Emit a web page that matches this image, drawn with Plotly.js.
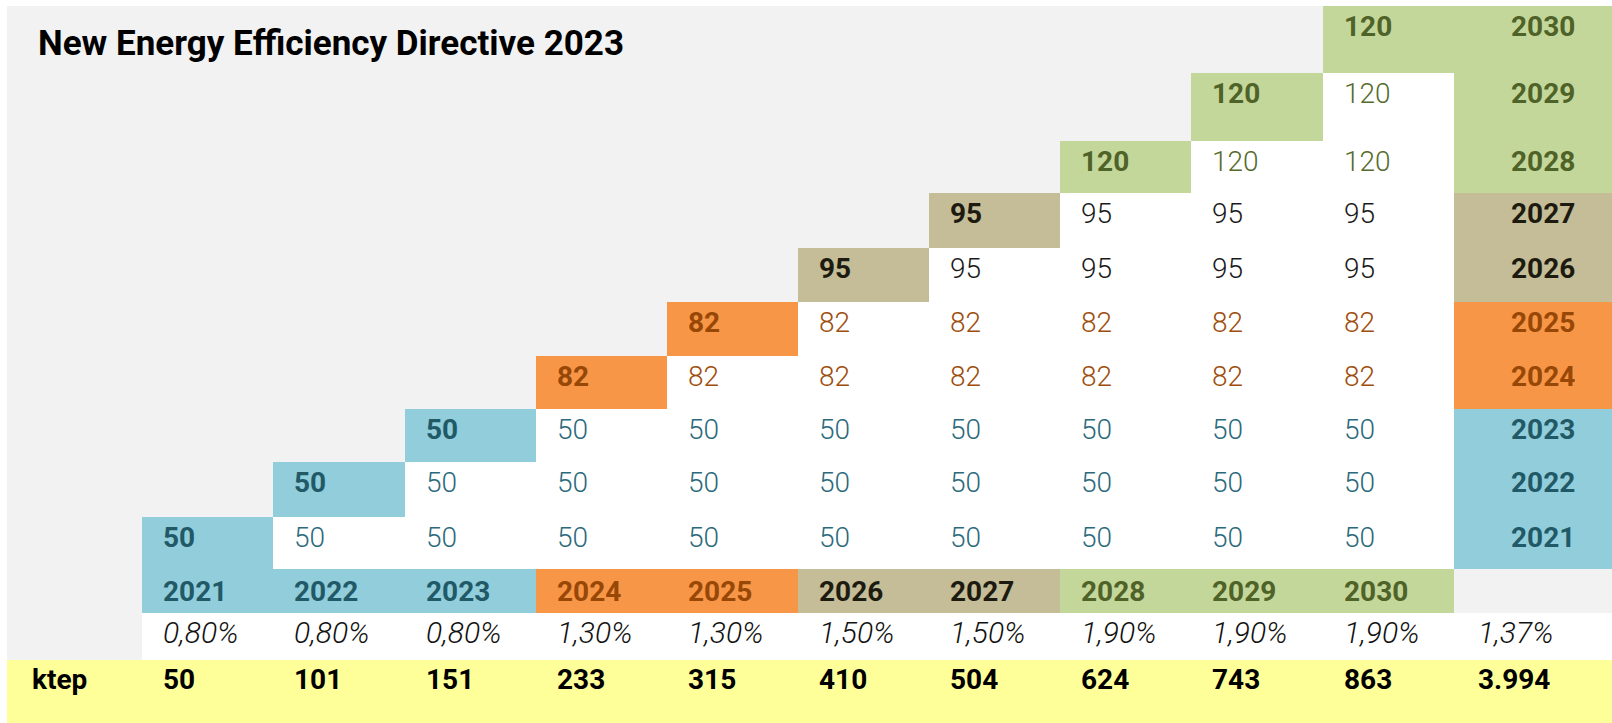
<!DOCTYPE html>
<html>
<head>
<meta charset="utf-8">
<script src="https://cdn.plot.ly/plotly-3.0.1.min.js"></script>
<style>
html,body{margin:0;padding:0;background:#ffffff;}
#chart{width:1612px;height:723px;}
</style>
</head>
<body>
<div id="chart"></div>
<script>
// ---------------- DATA ----------------
const titleText = 'New Energy Efficiency Directive 2023';
const years = [2021, 2022, 2023, 2024, 2025, 2026, 2027, 2028, 2029, 2030];
const annualSavings = [50, 50, 50, 82, 82, 95, 95, 120, 120, 120];
const savingRates = [0.80, 0.80, 0.80, 1.30, 1.30, 1.50, 1.50, 1.90, 1.90, 1.90];
const averageRate = 1.37;
const cumulativeKtep = [50, 101, 151, 233, 315, 410, 504, 624, 743, 863];
const totalKtep = 3994;
const unitLabel = 'ktep';
const yearGroups = ['blue', 'blue', 'blue', 'orange', 'orange', 'tan', 'tan', 'green', 'green', 'green'];

// ---------------- STYLE / LAYOUT CONSTANTS ----------------
const PALETTE = {
  gray:   {fill: '#F2F2F2'},
  white:  {fill: '#FFFFFF'},
  blue:   {fill: '#92CDDC', dark: '#215967', light: '#2B6A7C'},
  orange: {fill: '#F79646', dark: '#974706', light: '#9E4D0C'},
  tan:    {fill: '#C4BD97', dark: '#1D1B10', light: '#1A1A1A'},
  green:  {fill: '#C4D79B', dark: '#4F6228', light: '#556B2C'},
  yellow: {fill: '#FFFF99'}
};
const CODE_ORDER = ['gray', 'white', 'blue', 'orange', 'tan', 'green', 'yellow'];
const code = name => CODE_ORDER.indexOf(name);

const FIG_W = 1612, FIG_H = 723;
const M_L = 7, M_T = 6;
const COL_W = 131.14;          // px per data column
const LABEL_W = 135.3;         // px of the label column
const PLOT_W = FIG_W - M_L;
const PLOT_H = FIG_H - M_T;
const X_MIN = -LABEL_W / COL_W;
const X_MAX = X_MIN + PLOT_W / COL_W;
// row heights (px), top to bottom: 10 year rows (2030..2021), year-label row, rate row, ktep row
const ROW_H = [67, 67.7, 52.3, 54.7, 54, 54, 53.3, 53, 54.7, 52.3, 43.7, 46.8, 63.5];
const FONT = 'Roboto, "Noto Sans", "DejaVu Sans", sans-serif';
const FS = 28;
const PAD_X = 19;

// ---------------- BUILD GRID ----------------
const n = years.length;
const xEdges = [X_MIN];
for (let j = 0; j <= n; j++) xEdges.push(j);
xEdges.push(X_MAX);
const yEdges = [0];
ROW_H.forEach(h => yEdges.push(yEdges[yEdges.length - 1] + h));

const z = [];
const annotations = [];
const fmtRate = r => r.toFixed(2).replace('.', ',') + '%';
const fmtThousands = v => v >= 1000 ? Math.floor(v / 1000) + '.' + String(v % 1000).padStart(3, '0') : String(v);

function addText(txt, colX, rowIdx, opts) {
  const o = Object.assign({weight: 400, style: 'normal', color: '#000', anchor: 'left', xshift: PAD_X, pad: 9, size: FS}, opts || {});
  const capGap = Math.round(0.216 * o.size) + 1;
  annotations.push({
    x: colX, y: yEdges[rowIdx], xref: 'x', yref: 'y',
    xanchor: o.anchor, yanchor: 'top',
    xshift: o.xshift, yshift: -(o.pad - capGap),
    text: txt, showarrow: false,
    font: {family: FONT, size: o.size, color: o.color, weight: o.weight, style: o.style}
  });
}

// year rows, top (2030) to bottom (2021)
for (let r = 0; r < n; r++) {
  const i = n - 1 - r;
  const g = yearGroups[i];
  const row = [code('gray')];
  for (let j = 0; j < n; j++) {
    if (j < i) row.push(code('gray'));
    else if (j === i) row.push(code(g));
    else row.push(code('white'));
  }
  row.push(code(g));
  z.push(row);
  for (let j = i; j < n; j++) {
    addText(String(annualSavings[i]), j, r, {
      weight: j === i ? 700 : 300,
      color: j === i ? PALETTE[g].dark : PALETTE[g].light
    });
  }
  addText(String(years[i]), n, r, {weight: 700, color: PALETTE[g].dark, anchor: 'center', xshift: 89});
}

// year label row
const rYear = n;
z.push([code('gray')].concat(yearGroups.map(g => code(g))).concat([code('gray')]));
years.forEach((y, j) => addText(String(y), j, rYear, {weight: 700, color: PALETTE[yearGroups[j]].dark, pad: 11}));

// rate row
const rRate = n + 1;
z.push([code('gray')].concat(years.map(() => code('white'))).concat([code('white')]));
savingRates.forEach((v, j) => addText(fmtRate(v), j, rRate, {weight: 300, style: 'italic', color: '#111', size: 30, pad: 7}));
addText(fmtRate(averageRate), n, rRate, {weight: 300, style: 'italic', color: '#111', size: 30, xshift: 22, pad: 7});

// ktep row
const rKtep = n + 2;
z.push([code('yellow')].concat(years.map(() => code('yellow'))).concat([code('yellow')]));
addText(unitLabel, X_MIN, rKtep, {weight: 700, xshift: 23, pad: 8.5});
cumulativeKtep.forEach((v, j) => addText(fmtThousands(v), j, rKtep, {weight: 700, pad: 8.5}));
addText(fmtThousands(totalKtep), n, rKtep, {weight: 700, xshift: 22, pad: 8.5});

const colorscale = CODE_ORDER.map((name, k) => [k / (CODE_ORDER.length - 1), PALETTE[name].fill]);

const trace = {
  type: 'heatmap',
  x: xEdges, y: yEdges, z: z,
  zmin: 0, zmax: CODE_ORDER.length - 1,
  colorscale: colorscale,
  showscale: false,
  hoverinfo: 'skip',
  xgap: 0, ygap: 0
};

const layout = {
  width: FIG_W, height: FIG_H,
  margin: {l: M_L, r: 0, t: M_T, b: 0, pad: 0},
  paper_bgcolor: '#FFFFFF',
  plot_bgcolor: '#F2F2F2',
  showlegend: false,
  title: {
    text: '<b>' + titleText + '</b>',
    x: 38 / FIG_W, xanchor: 'left', xref: 'container',
    y: 1 - 43 / FIG_H, yanchor: 'middle', yref: 'container',
    font: {family: FONT, size: 35, color: '#000000'}
  },
  xaxis: {range: [X_MIN, X_MAX], visible: false, fixedrange: true},
  yaxis: {range: [PLOT_H, 0], visible: false, fixedrange: true},
  annotations: annotations
};

Plotly.newPlot('chart', [trace], layout, {staticPlot: true, displayModeBar: false});
</script>
</body>
</html>
